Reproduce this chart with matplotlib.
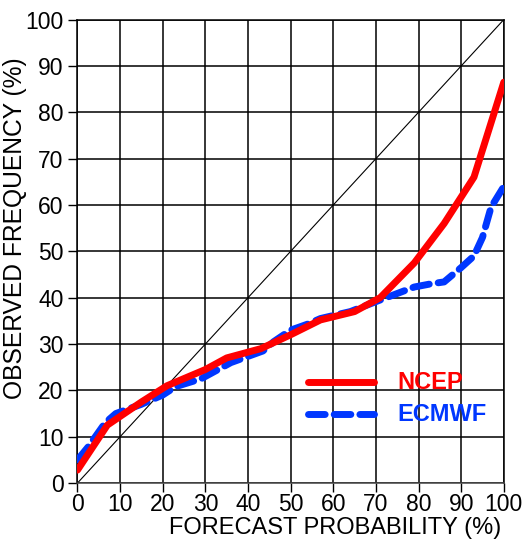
import matplotlib
matplotlib.use('Agg')
import matplotlib.pyplot as plt

plt.rcParams['font.family'] = ['Liberation Sans', 'DejaVu Sans']

# ---------------- data ----------------
ncep_x = [0, 7, 15, 21, 30, 35, 43, 50, 57, 65, 71, 79, 86, 93, 100]
ncep_y = [2.8, 12.5, 17.5, 21, 24.5, 27, 29, 32, 35.2, 37, 40, 47.5, 56, 66, 86.5]

ecmwf_x = [0, 2.5, 6.5, 9, 15, 20, 23, 29, 36, 43.5, 46, 50, 54, 57, 64, 71, 79, 83, 86, 90, 93, 95, 97, 100]
ecmwf_y = [5, 7.8, 13, 15, 17, 19, 20.8, 22.5, 26, 28.5, 30.5, 33, 34.3, 35.5, 37, 39.5, 42.3, 43, 43.4, 46.5, 49, 53, 59.5, 64]

ticks = list(range(0, 101, 10))

# ---------------- plot ----------------
fig = plt.figure(figsize=(5.27, 5.44), dpi=100)
ax = fig.add_axes([0.147, 0.112, 0.809, 0.852])

ax.plot([0, 100], [0, 100], color='black', linewidth=0.8, zorder=2)
ax.plot(ncep_x, ncep_y, color='#ff0000', linewidth=5, solid_capstyle='round',
        solid_joinstyle='round', zorder=4, label='NCEP')
ax.plot(ecmwf_x, ecmwf_y, color='#0037ff', linewidth=5, linestyle=(0, (2.4, 1.3)),
        dash_capstyle='round', zorder=3, label='ECMWF')

ax.set_xlim(0, 100)
ax.set_ylim(0, 100)
ax.set_xticks(ticks)
ax.set_yticks(ticks)
ax.grid(True, color='black', linewidth=1.1)
ax.set_axisbelow(True)
ax.tick_params(direction='out', length=6.5, width=1, labelsize=16.5,
               top=False, right=False)
ax.tick_params(axis='x', pad=1)
ax.tick_params(axis='y', pad=3.5)
for s in ax.spines.values():
    s.set_linewidth(1.1)
ax.spines['bottom'].set_color('#444444')

ax.set_xlabel('FORECAST PROBABILITY (%)', fontsize=17, ha='right')
ax.xaxis.set_label_coords(0.995, -0.073)
ax.set_ylabel('OBSERVED FREQUENCY (%)', fontsize=17.7)
ax.yaxis.set_label_coords(-0.118, 0.55)

# legend drawn manually like the original
ax.plot([54, 69.5], [21.7, 21.7], color='#ff0000', linewidth=5, solid_capstyle='round')
ax.plot([54, 69.5], [14.8, 14.8], color='#0037ff', linewidth=5,
        linestyle=(0, (2.4, 1.3)), dash_capstyle='round')
ax.text(75, 21.7, 'NCEP', color='#ff0000', fontsize=17, fontweight='bold', va='center')
ax.text(75, 14.8, 'ECMWF', color='#0037ff', fontsize=17, fontweight='bold', va='center')

fig.savefig('out.png', dpi=100)
